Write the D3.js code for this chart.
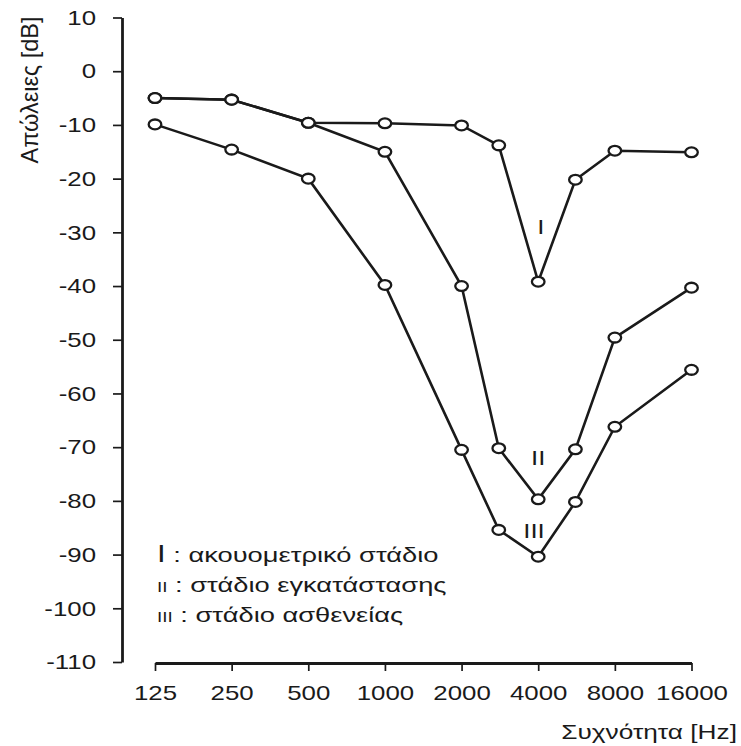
<!DOCTYPE html>
<html>
<head>
<meta charset="utf-8">
<script src="https://cdn.jsdelivr.net/npm/d3@7/dist/d3.min.js"></script>
<style>
  body { margin: 0; background: #fff; }
  svg { display: block; font-family: "Liberation Sans", Arial, sans-serif; }
</style>
</head>
<body>
<svg width="741" height="746"></svg>
<script>
// frequencies (Hz) where each curve was measured
const freqs = [125, 250, 500, 1000, 2000, 2800, 4000, 5600, 8000, 16000];
const tickFreqs = [125, 250, 500, 1000, 2000, 4000, 8000, 16000];
const yTicks = [10, 0, -10, -20, -30, -40, -50, -60, -70, -80, -90, -100, -110];

// losses in dB per stage
const stageI = [-5, -5.3, -9.6, -9.7, -10.1, -13.8, -39.2, -20.2, -14.8, -15.1];
const stageII = [-5, -5.3, -9.6, -15, -40, -70.2, -79.7, -70.4, -49.6, -40.3];
const stageIII = [-9.9, -14.6, -20, -39.8, -70.5, -85.4, -90.4, -80.2, -66.2, -55.6];

const curveLabels = [
    { text: "I", f: 4100, v: -29 },
    { text: "II", f: 4000, v: -72 },
    { text: "III", f: 3850, v: -85.5 },
];
const legendLines = [
    ["I", " : ακουομετρικό στάδιο", false],
    ["II", " : στάδιο εγκατάστασης", true],
    ["III", " : στάδιο ασθενείας", true],
];

// the picture is a bit wider than tall, text is stretched sideways
const stretch = 1.23;
const ink = "#1a1a1a";

const svg = d3.select("svg");

const x = d3.scaleLog().base(2).domain([125, 16000]).range([155, 691.5]);
const y = d3.scaleLinear().domain([-110, 10]).range([662, 17.5]);

// y axis
const yAxis = svg.append("g")
    .attr("transform", "translate(122,0)")
    .call(d3.axisLeft(y).tickValues(yTicks).tickFormat((d) => String(d))
        .tickSize(9).tickSizeOuter(0));
yAxis.select(".domain").attr("stroke-width", 2.8).attr("stroke", ink);
yAxis.selectAll(".tick line").attr("stroke-width", 1.7).attr("stroke", ink);
yAxis.selectAll(".tick text")
    .attr("x", 0)
    .attr("transform", `translate(-26,0) scale(${stretch},1)`)
    .attr("font-size", 21)
    .attr("fill", ink)
    .attr("font-family", "Liberation Sans, Arial, sans-serif");

// x axis
const xAxis = svg.append("g")
    .attr("transform", "translate(0,663)")
    .call(d3.axisBottom(x).tickValues(tickFreqs).tickFormat((d) => String(d))
        .tickSize(8).tickSizeOuter(0));
xAxis.select(".domain").attr("stroke-width", 2.8).attr("stroke", ink);
xAxis.selectAll(".tick line").attr("stroke-width", 1.7).attr("stroke", ink);
xAxis.selectAll(".tick text")
    .attr("y", 37)
    .attr("dy", 0)
    .attr("transform", `scale(${stretch},1)`)
    .attr("font-size", 21)
    .attr("fill", ink)
    .attr("font-family", "Liberation Sans, Arial, sans-serif");

// axis titles
svg.append("text")
    .attr("transform", "translate(38,90) rotate(-90) scale(1,1.05)")
    .attr("text-anchor", "middle")
    .attr("font-size", 23.5)
    .attr("fill", ink)
    .text("Απώλειες [dB]");

svg.append("text")
    .attr("transform", `translate(737,739) scale(${stretch + 0.02},1)`)
    .attr("text-anchor", "end")
    .attr("font-size", 21)
    .attr("fill", ink)
    .text("Συχνότητα [Hz]");

// curves
const line = d3.line()
    .x((d) => x(d[0]))
    .y((d) => y(d[1]));

[stageIII, stageII, stageI].forEach((vals) => {
    const pts = freqs.map((f, i) => [f, vals[i]]);
    svg.append("path")
        .datum(pts)
        .attr("fill", "none")
        .attr("stroke", ink)
        .attr("stroke-width", 2.6)
        .attr("d", line);
    svg.append("g")
        .selectAll("ellipse")
        .data(pts)
        .enter()
        .append("ellipse")
        .attr("cx", (d) => x(d[0]))
        .attr("cy", (d) => y(d[1]))
        .attr("rx", 6.3)
        .attr("ry", 4.9)
        .attr("fill", "#fff")
        .attr("stroke", ink)
        .attr("stroke-width", 2.3);
});

// roman labels next to the dips
svg.append("g")
    .selectAll("text")
    .data(curveLabels)
    .enter()
    .append("text")
    .attr("transform", (d) => `translate(${x(d.f)},${y(d.v)}) scale(${stretch},1)`)
    .attr("text-anchor", "middle")
    .attr("dy", "0.35em")
    .attr("font-size", 21)
    .attr("fill", ink)
    .text((d) => d.text);

// legend
legendLines.forEach((l, i) => {
    const t = svg.append("text")
        .attr("transform", `translate(157,${562 + i * 30}) scale(1.3,1)`)
        .attr("font-size", 21)
        .attr("fill", ink);
    t.append("tspan").attr("font-size", l[2] ? 14.5 : 24).text(l[0]);
    t.append("tspan").text(l[1]);
});
</script>
</body>
</html>
